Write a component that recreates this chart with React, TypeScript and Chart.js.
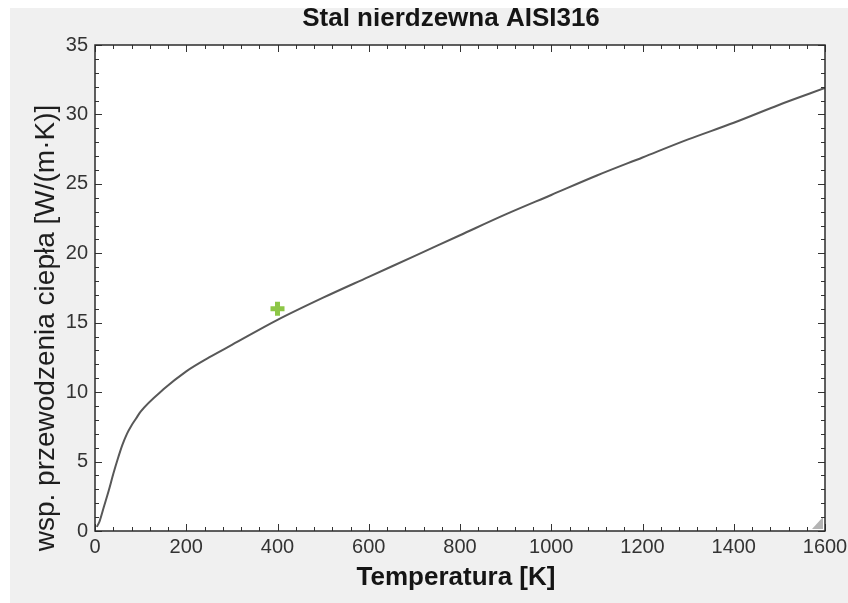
import React, { useEffect, useRef } from "react";
import { Chart, registerables } from "chart.js";

Chart.register(...registerables);

// ---- data ----
const temperatureK = [4, 10, 20, 30, 40, 50, 60, 70, 80, 90, 100, 150, 200, 250, 300, 400, 500, 600, 700, 800, 900, 1000, 1100, 1200, 1300, 1400, 1500, 1600];
const conductivity = [0.3, 0.7, 1.8, 2.9, 4.1, 5.2, 6.2, 7.0, 7.6, 8.1, 8.6, 10.2, 11.5, 12.5, 13.4, 15.2, 16.8, 18.3, 19.8, 21.3, 22.8, 24.2, 25.6, 26.9, 28.2, 29.4, 30.7, 31.9];
const markerT = [400];
const markerK = [16.0];

const xTicks = [0, 200, 400, 600, 800, 1000, 1200, 1400, 1600];
const yTicks = [0, 5, 10, 15, 20, 25, 30, 35];
const xMinorStep = 40;
const yMinorStep = 1;

const chartTitle = "Stal nierdzewna AISI316";
const xTitle = "Temperatura [K]";
const yTitle = "wsp. przewodzenia ciepła [W/(m·K)]";

const FONT = "'Liberation Sans', Arial, Helvetica, sans-serif";

const decorPlugin = {
  id: "decor",
  beforeDraw(chart: any) {
    const { ctx, chartArea: a, width, height } = chart;
    ctx.save();
    ctx.fillStyle = "#f0f0f0";
    ctx.fillRect(0, 0, width, height);
    ctx.fillStyle = "#ffffff";
    ctx.fillRect(a.left, a.top, a.right - a.left, a.bottom - a.top);
    ctx.restore();
  },
  afterDatasetsDraw(chart: any) {
    const { ctx, chartArea: a } = chart;
    ctx.save();
    ctx.fillStyle = "#b4b4b4";
    ctx.beginPath();
    ctx.moveTo(a.right - 13, a.bottom - 2);
    ctx.lineTo(a.right - 2, a.bottom - 2);
    ctx.lineTo(a.right - 2, a.bottom - 14);
    ctx.closePath();
    ctx.fill();
    ctx.restore();
  },
  afterDraw(chart: any) {
    const { ctx, chartArea: a, scales } = chart;
    const xs = scales.x;
    const ys = scales.y;
    ctx.save();
    ctx.strokeStyle = "#333333";
    ctx.lineWidth = 1;
    for (let v = 0; v <= 1600; v += xMinorStep) {
      const major = xTicks.includes(v);
      const len = major ? 7 : 4;
      const px = Math.round(xs.getPixelForValue(v)) + 0.5;
      ctx.beginPath();
      ctx.moveTo(px, a.bottom);
      ctx.lineTo(px, a.bottom - len);
      ctx.moveTo(px, a.top);
      ctx.lineTo(px, a.top + len);
      ctx.stroke();
    }
    for (let v = 0; v <= 35; v += yMinorStep) {
      const major = yTicks.includes(v);
      const len = major ? 7 : 4;
      const py = Math.round(ys.getPixelForValue(v)) + 0.5;
      ctx.beginPath();
      ctx.moveTo(a.left, py);
      ctx.lineTo(a.left + len, py);
      ctx.moveTo(a.right, py);
      ctx.lineTo(a.right - len, py);
      ctx.stroke();
    }
    ctx.lineWidth = 1.5;
    ctx.strokeStyle = "#2b2b2b";
    ctx.strokeRect(a.left, a.top, a.right - a.left, a.bottom - a.top);

    ctx.fillStyle = "#151515";
    ctx.textAlign = "center";
    ctx.textBaseline = "middle";
    ctx.font = `bold 26px ${FONT}`;
    ctx.fillText(chartTitle, 441, 11);
    ctx.fillText(xTitle, 446, 570);
    ctx.save();
    ctx.translate(36, 320);
    ctx.rotate(-Math.PI / 2);
    ctx.font = `28px ${FONT}`;
    ctx.fillStyle = "#1e1e1e";
    ctx.fillText(yTitle, 0, 0);
    ctx.restore();
    ctx.restore();
  },
};

export default function App() {
  const canvasRef = useRef<HTMLCanvasElement | null>(null);

  useEffect(() => {
    const canvas = canvasRef.current;
    if (!canvas) return;
    const chart = new Chart(canvas, {
      type: "scatter",
      data: {
        datasets: [
          {
            label: "k(T)",
            data: temperatureK.map((t, i) => ({ x: t, y: conductivity[i] })),
            showLine: true,
            borderColor: "#585858",
            borderWidth: 2,
            pointRadius: 0,
            cubicInterpolationMode: "monotone",
            order: 2,
          },
          {
            label: "punkt",
            data: markerT.map((t, i) => ({ x: t, y: markerK[i] })),
            showLine: false,
            pointStyle: "cross",
            pointRadius: 7,
            borderWidth: 5,
            borderColor: "#8dc646",
            backgroundColor: "#8dc646",
            order: 1,
          },
        ],
      },
      options: {
        animation: false,
        responsive: false,
        devicePixelRatio: 1,
        layout: { padding: { top: 37, right: 23, left: 0, bottom: 0 } },
        plugins: {
          legend: { display: false },
          tooltip: { enabled: false },
          title: { display: false },
        },
        scales: {
          x: {
            type: "linear",
            min: 0,
            max: 1600,
            afterBuildTicks: (s: any) => {
              s.ticks = xTicks.map((v) => ({ value: v }));
            },
            ticks: {
              font: { family: FONT, size: 20 },
              color: "#333333",
              padding: 4,
              maxRotation: 0,
              autoSkip: false,
              callback: (v: any) => String(v),
            },
            grid: { display: false, drawTicks: false },
            border: { display: false },
            afterFit: (s: any) => {
              s.height = 72;
              s.paddingLeft = 0;
              s.paddingRight = 0;
            },
          },
          y: {
            type: "linear",
            min: 0,
            max: 35,
            afterBuildTicks: (s: any) => {
              s.ticks = yTicks.map((v) => ({ value: v }));
            },
            ticks: {
              font: { family: FONT, size: 20 },
              color: "#333333",
              padding: 7,
              autoSkip: false,
              callback: (v: any) => String(v),
            },
            grid: { display: false, drawTicks: false },
            border: { display: false },
            afterFit: (s: any) => {
              s.width = 85;
              s.paddingTop = 0;
              s.paddingBottom = 0;
            },
          },
        },
      },
      plugins: [decorPlugin],
    });
    return () => chart.destroy();
  }, []);

  return (
    <div style={{ position: "fixed", left: 10, top: 8, width: 838, height: 595, overflow: "hidden" }}>
      <canvas ref={canvasRef} width={838} height={595} style={{ width: 838, height: 595, display: "block" }} />
    </div>
  );
}
